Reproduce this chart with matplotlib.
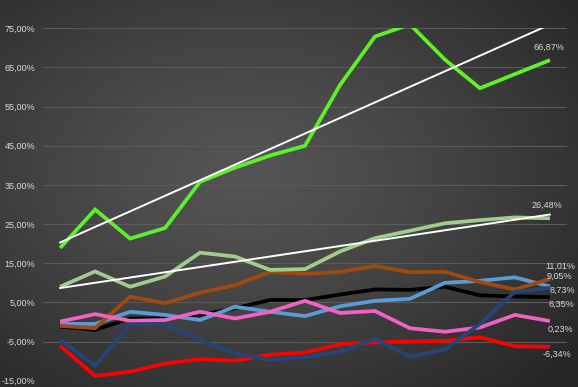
import matplotlib
matplotlib.use("Agg")
import matplotlib.pyplot as plt
import numpy as np

# values in %, 15 observations per series
periods = list(range(15))

bright_green = [18.9, 28.7, 21.3, 24.0, 35.8, 39.4, 42.5, 45.0, 60.5, 72.9, 76.0, 67.0, 59.7, 63.3, 66.87]
light_green = [9.0, 12.9, 9.0, 11.6, 17.7, 16.7, 13.3, 13.5, 18.0, 21.4, 23.3, 25.2, 26.0, 26.7, 26.48]
brown = [-1.0, -1.6, 6.5, 4.8, 7.5, 9.4, 12.8, 12.3, 12.8, 14.3, 12.7, 12.8, 10.2, 8.3, 11.01]
light_blue = [-0.5, -0.5, 2.6, 1.8, 0.5, 3.9, 2.6, 1.5, 4.0, 5.4, 5.9, 10.0, 10.5, 11.4, 9.05]
navy = [-4.6, -11.2, -0.6, -0.6, -4.6, -8.0, -9.7, -9.0, -7.6, -4.3, -8.9, -7.0, -0.5, 7.7, 8.73]
black = [-1.2, -2.0, 0.9, 0.9, 1.8, 3.5, 5.6, 5.6, 7.0, 8.3, 8.2, 9.0, 6.8, 6.5, 6.35]
pink = [0.1, 2.0, 0.3, 0.5, 2.6, 0.9, 2.6, 5.4, 2.3, 2.8, -1.6, -2.5, -1.4, 1.8, 0.23]
red = [-6.1, -13.8, -12.7, -10.6, -9.5, -9.9, -8.4, -7.8, -5.7, -5.2, -5.0, -4.8, -3.9, -6.2, -6.34]

y_ticks = [-15, -5, 5, 15, 25, 35, 45, 55, 65, 75]

# (values, colour, end-label offset in pixels)
series = [
    (black, "#000000", (11, -7)),
    (light_blue, "#5b9bd5", (10, 10)),
    (brown, "#9e4a10", (10, 13)),
    (pink, "#f062c4", (11, -8)),
    (red, "#ff0000", (7, -8)),
    (navy, "#264478", (13, -3)),
    (light_green, "#a2cc8c", (-3, 13)),
    (bright_green, "#5ef02a", (-1, 13)),
]
trend_of = [light_green, bright_green]


def pct(v):
    return f"{v:.2f}".replace(".", ",") + "%"


fig = plt.figure(figsize=(5.78, 3.87), dpi=100)

# radial dark-grey background
bg = fig.add_axes([0, 0, 1, 1])
gx, gy = np.meshgrid(np.linspace(0, 1, 300), np.linspace(0, 1, 200))
r = np.sqrt(((gx - 0.42) / 0.75) ** 2 + ((gy - 0.55) / 0.75) ** 2)
r = np.clip(r, 0, 1)
lo, hi = 0.15, 0.33
shade = hi - (hi - lo) * r ** 1.3
bg.imshow(np.dstack([shade] * 3), extent=(0, 1, 0, 1), aspect="auto", origin="lower")
bg.axis("off")

ax = fig.add_axes([0.0744, 0.0163, 0.9066, 0.9106])
ax.patch.set_alpha(0)
for s in ax.spines.values():
    s.set_visible(False)

x = np.array(periods)
for vals, col, off in series:
    ax.plot(x, vals, color=col, lw=2.7, solid_capstyle="butt", solid_joinstyle="miter", zorder=3)
    ax.annotate(pct(vals[-1]), (x[-1], vals[-1]), xytext=off, textcoords="offset pixels",
                ha="center", va="center", color="#d9d9d9", fontsize=6.5,
                family="Liberation Sans", zorder=5)

for vals in trend_of:
    k, b = np.polyfit(x, vals, 1)
    ax.plot(x, k * x + b, color="white", lw=1.4, zorder=4)

ax.set_xlim(-0.49, 14.49)
ax.set_ylim(-15, 75)
ax.set_xticks([])
ax.set_yticks(y_ticks)
ax.set_yticklabels([pct(t) for t in y_ticks], fontsize=6.5, color="#d9d9d9",
                   family="Liberation Sans", va="center_baseline")
ax.tick_params(axis="y", length=0, pad=5.5)
ax.grid(True, axis="y", color="#5a5a5a", lw=0.8)
ax.set_axisbelow(True)

fig.savefig("out.png", dpi=100)
